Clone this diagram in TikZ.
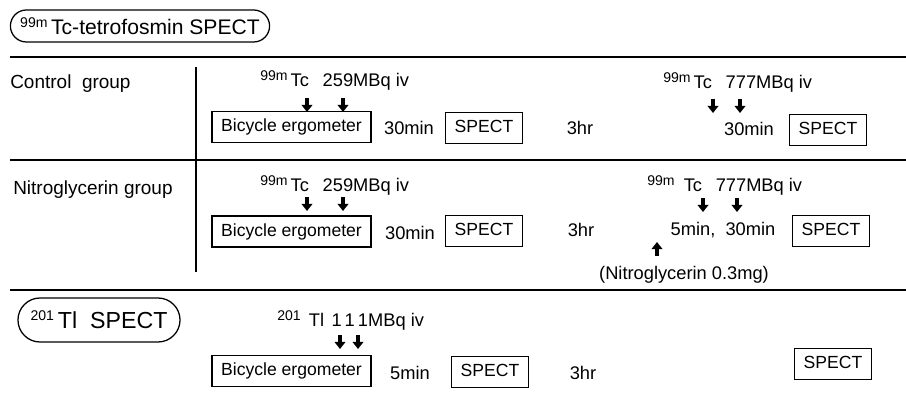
\documentclass[tikz,border=0pt]{standalone}
\usepackage{fontspec}
\setmainfont{Liberation Sans}
\usetikzlibrary{arrows.meta,positioning}
\newcommand{\iso}[1]{\raisebox{0.62ex}{\fontsize{10}{11}\selectfont #1}}
\begin{document}
\begin{tikzpicture}[x=0.025cm,y=-0.025cm,line cap=butt,line join=miter,
  rule/.style={line width=1.1pt},
  lbl/.style={font=\fontsize{13.5}{15}\selectfont,inner sep=0pt},
  txt/.style={font=\fontsize{13}{15}\selectfont,inner sep=0pt},
  doselbl/.style={font=\fontsize{13}{15}\selectfont,inner sep=0pt,anchor=west},
  stepbox/.style={draw,line width=0.9pt,font=\fontsize{12.5}{14}\selectfont,inner xsep=6.5pt,
    text height=0.72em,text depth=0.08em,minimum height=0.78cm},
  titlebox/.style={draw,line width=0.9pt,rounded corners=0.4cm,inner xsep=7pt},
  dose/.style={line width=2.2pt,-{Triangle[width=7.5pt,length=5pt]}}]
\useasboundingbox (0,0) rectangle (906,400);
% headings
\node[titlebox,minimum height=0.8cm,font=\fontsize{15}{17}\selectfont] (tcTitle) at (140,26) {\iso{99m}\,Tc-tetrofosmin SPECT};
\node[titlebox,minimum height=1.1cm,minimum width=4.05cm,rounded corners=0.55cm,font=\fontsize{16.5}{18}\selectfont] (tlTitle) at (99,320) {\iso{201}\,Tl\ \ SPECT};
% rules
\draw[rule] (10,57) -- (906,57);
\draw[rule] (10,160) -- (906,160);
\draw[rule] (10,290) -- (906,290);
\draw[rule] (196,67) -- (196,272);
% group names
\node[lbl,anchor=west] (ctlName) at (10,84) {Control\ \ group};
\node[lbl,anchor=west] (ntgName) at (13,190) {Nitroglycerin group};
% control group
\node[doselbl] (ctlDose1) at (260,80) {\iso{99m}\,Tc\hspace{0.75em}259MBq iv};
\node[stepbox] (ctlErgo) at (291.5,127) {Bicycle ergometer};
\node[txt] (ctlWait1) at (409,128) {30min};
\node[stepbox] (ctlSpect1) at (484,128) {SPECT};
\node[txt] (ctlGap) at (580,128) {3hr};
\node[doselbl] (ctlDose2) at (663,82) {\iso{99m}\,Tc\hspace{0.75em}777MBq iv};
\node[txt] (ctlWait2) at (749,129) {30min};
\node[stepbox] (ctlSpect2) at (828,130) {SPECT};
\foreach \ax in {307,343} \draw[dose] (\ax,98) -- (\ax,112);
\foreach \ax in {713,740} \draw[dose] (\ax,99) -- (\ax,113);
% nitroglycerin group
\node[doselbl] (ntgDose1) at (260,185) {\iso{99m}\,Tc\hspace{0.75em}259MBq iv};
\node[stepbox] (ntgErgo) at (291.5,231.5) {Bicycle ergometer};
\node[txt] (ntgWait1) at (410,233) {30min};
\node[stepbox] (ntgSpect1) at (484,231) {SPECT};
\node[txt] (ntgGap) at (581,230) {3hr};
\node[doselbl] (ntgDose2) at (647,185) {\iso{99m}\hspace{0.5em}Tc\hspace{0.75em}777MBq iv};
\node[txt] (ntgWait2) at (723,230) {5min,\ \ 30min};
\node[stepbox] (ntgSpect2) at (831,231) {SPECT};
\node[txt] (ntgDrug) at (684,275) {(Nitroglycerin 0.3mg)};
\foreach \ax in {307,343} \draw[dose] (\ax,197) -- (\ax,211);
\foreach \ax in {703,737} \draw[dose] (\ax,198) -- (\ax,212);
\draw[dose] (657,256) -- (657,242);
% thallium
\node[doselbl] (tlDose) at (277,320) {\iso{201}\hspace{0.45em}Tl\hspace{0.4em}1\,1\,1MBq iv};
\node[stepbox] (tlErgo) at (291.5,371) {Bicycle ergometer};
\node[txt] (tlWait) at (410,373) {5min};
\node[stepbox] (tlSpect1) at (490,372) {SPECT};
\node[txt] (tlGap) at (583,373) {3hr};
\node[stepbox] (tlSpect2) at (833,364) {SPECT};
\foreach \ax in {340,358} \draw[dose] (\ax,335) -- (\ax,349);
\end{tikzpicture}
\end{document}
